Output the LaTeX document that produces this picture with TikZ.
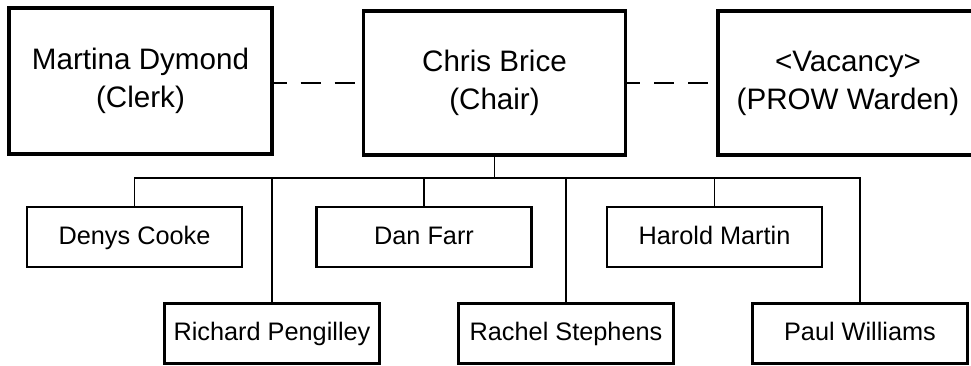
\documentclass[tikz,border=0pt]{standalone}
\usepackage{fontspec}
\setmainfont{Liberation Sans}
\begin{document}
\begin{tikzpicture}[x=1pt,y=-1pt,
  topbox/.style={draw,line width=3.4pt,inner sep=0pt,align=center,
    font=\fontsize{29.6}{38}\selectfont},
  subbox/.style={draw,line width=2.9pt,inner sep=0pt,align=center,
    minimum width=215pt,minimum height=60pt,text height=18.5pt,text depth=4.5pt,
    font=\fontsize{25.3}{30}\selectfont},
  link/.style={line width=1.3pt},
  dashlink/.style={line width=2pt,dash pattern=on 20pt off 14pt,dash phase=7pt}]
\useasboundingbox (0,0) rectangle (971,365);
\node[topbox,minimum width=263pt,minimum height=146pt] (martina) at (140.5,81) {Martina Dymond\\(Clerk)};
\node[topbox,minimum width=262pt,minimum height=144pt] (chris) at (494.5,83) {Chris Brice\\(Chair)};
\node[topbox,minimum width=260pt,minimum height=144pt] (vacancy) at (848,83) {<Vacancy>\\(PROW Warden)};
\draw[dashlink] (chris.west -| martina.east) -- (chris.west);
\draw[dashlink] (chris.east) -- (chris.east -| vacancy.west);
\node[subbox] (denys) at (134.5,237) {Denys Cooke};
\node[subbox] (dan) at (424,237) {Dan Farr};
\node[subbox] (harold) at (714.5,237) {Harold Martin};
\node[subbox] (richard) at (272,333.5) {Richard Pengilley};
\node[subbox] (rachel) at (566,333.5) {Rachel Stephens};
\node[subbox] (paul) at (860,333.5) {Paul Williams};
\coordinate (bus) at (494.5,178);
\draw[link] (chris.south) -- (bus);
\foreach \c in {denys,dan,harold,richard,rachel,paul}
  \draw[link] (bus) -| (\c.north);
\end{tikzpicture}
\end{document}
